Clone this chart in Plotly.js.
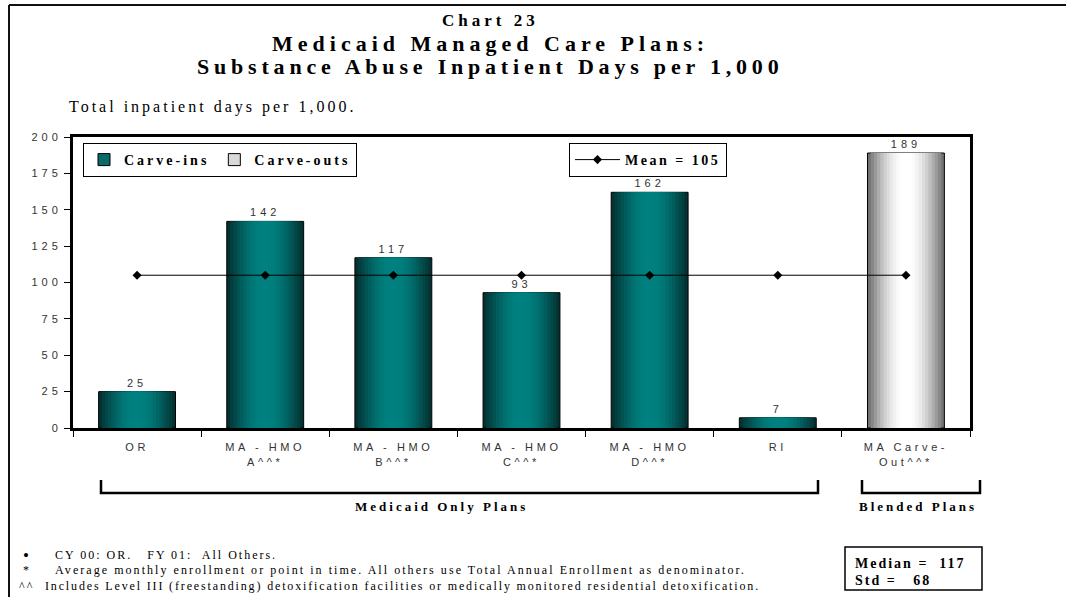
<!DOCTYPE html>
<html><head><meta charset="utf-8">
<script src="https://cdn.plot.ly/plotly-3.0.1.min.js"></script>
<style>
body{margin:0;background:#fff}
#chart{width:1066px;height:597px}
.xtick text{letter-spacing:3.6px}
.ytick text{letter-spacing:4px}
text.bartext{letter-spacing:4px}
.legendtext{letter-spacing:3px}
</style></head><body><div id="chart"></div>
<script>
// ---- data ----
const categories = ['OR', 'MA - HMO<br>A^^*', 'MA - HMO<br>B^^*', 'MA - HMO<br>C^^*', 'MA - HMO<br>D^^*', 'RI', 'MA Carve-<br>Out^^*'];
const carveIns  = [25, 142, 117, 93, 162, 7, null];
const carveOuts = [null, null, null, null, null, null, 189];
const meanSeries = [105, 105, 105, 105, 105, 105, 105];
const yTicks = [0, 25, 50, 75, 100, 125, 150, 175, 200];
const meanLabel = 'Mean = 105';
const medianLabel = 'Median =\u00a0 117';
const stdLabel = 'Std =\u00a0\u00a0 68';
const footnotes = [
  ['\u2022', 'CY 00: OR.\u00a0\u00a0 FY 01:\u00a0 All Others.'],
  ['*', 'Average monthly enrollment or point in time. All others use Total Annual Enrollment as denominator.'],
  ['^^', 'Includes Level III (freestanding) detoxification facilities or medically monitored residential detoxification.']
];

// ---- geometry helpers (pixel -> paper) ----
const L = 73, R = 970, T = 137, B = 428;
const px = x => (x - L) / (R - L);
const py = y => (B - y) / (B - T);

const serif = 'Liberation Serif, Times New Roman, serif';
const sans = 'Liberation Sans, Arial, sans-serif';

// ---- gradient bars via nested overlay bar traces ----
function mix(a, b, t) {
  return 'rgb(' + a.map((v, i) => Math.round(v + (b[i] - v) * t)).join(',') + ')';
}
const N = 12, W = 0.6;
const traces = [];
function addGradient(values, edge, center) {
  for (let k = 0; k < N; k++) {
    const t = Math.sin((k / (N - 1)) * Math.PI / 2);
    const tr = {
      type: 'bar', x: categories, y: values,
      width: W * (1 - k / N),
      marker: { color: mix(edge, center, t), line: { width: k === 0 ? 1 : 0, color: '#000' } },
      showlegend: false, hoverinfo: 'skip', cliponaxis: false
    };
    if (k === 0) {
      tr.texttemplate = '%{y}';
      tr.textposition = 'outside';
      tr.textfont = { family: sans, size: 11, color: '#333' };
    }
    traces.push(tr);
  }
}
addGradient(carveIns, [4, 50, 50], [0, 128, 128]);
addGradient(carveOuts, [115, 115, 115], [255, 255, 255]);

// legend entries
traces.push({ type: 'bar', x: [categories[0]], y: [null], name: 'Carve-ins', legend: 'legend',
  marker: { color: '#0a6a6a', line: { color: '#000', width: 1 } }, hoverinfo: 'skip' });
traces.push({ type: 'bar', x: [categories[0]], y: [null], name: 'Carve-outs', legend: 'legend',
  marker: { color: '#d8d8d8', line: { color: '#000', width: 1 } }, hoverinfo: 'skip' });

// mean line
traces.push({ type: 'scatter', mode: 'lines+markers', x: categories, y: meanSeries,
  name: '<span style="letter-spacing:2.5px">' + meanLabel + '</span>',
  legend: 'legend2', line: { color: '#000', width: 1 },
  marker: { symbol: 'diamond', size: 7, color: '#000' }, hoverinfo: 'skip', cliponaxis: false });

function sp(text, s) { return '<span style="letter-spacing:' + s + 'px">' + text + '</span>'; }
function ann(text, x, y, font, opts) {
  return Object.assign({ text: text, xref: 'paper', yref: 'paper', x: px(x), y: py(y),
    showarrow: false, xanchor: 'center', yanchor: 'middle', font: font }, opts || {});
}

const annotations = [
  ann(sp('Chart 23', 4), 490, 20, { family: serif, size: 17, weight: 'bold', color: '#000' }),
  ann(sp('Medicaid Managed Care Plans:', 5), 490, 43, { family: serif, size: 22, weight: 'bold', color: '#000' }),
  ann(sp('Substance Abuse Inpatient Days per 1,000', 4.8), 490, 67, { family: serif, size: 22, weight: 'bold', color: '#000' }),
  ann(sp('Total inpatient days per 1,000.', 3), 67, 107, { family: serif, size: 16, color: '#000' }, { xanchor: 'left' }),
  ann(sp('Medicaid Only Plans', 3), 441, 506, { family: serif, size: 13, weight: 'bold', color: '#000' }),
  ann(sp('Blended Plans', 3), 918, 506, { family: serif, size: 13, weight: 'bold', color: '#000' }),
  ann(sp(medianLabel, 2), 853, 563, { family: serif, size: 14, weight: 'bold', color: '#000' }, { xanchor: 'left' }),
  ann(sp(stdLabel, 2), 853, 580, { family: serif, size: 14, weight: 'bold', color: '#000' }, { xanchor: 'left' })
];
const fnY = [555, 570, 586];
const markX = [27, 27, 26];
const markSize = [17, 12, 12];
const textX = [53, 53, 43];
const textSpacing = [2, 2.05, 1.85];
footnotes.forEach((f, i) => {
  annotations.push(ann(sp(f[0], 2), markX[i], fnY[i], { family: serif, size: markSize[i], color: '#000' }));
  annotations.push(ann(sp(f[1], textSpacing[i]), textX[i], fnY[i], { family: serif, size: 12, color: '#000' }, { xanchor: 'left' }));
});

const shapes = [
  // outer frame
  { type: 'line', xref: 'paper', yref: 'paper', x0: px(9), x1: px(1066), y0: py(5), y1: py(5), line: { color: '#111', width: 2 } },
  { type: 'line', xref: 'paper', yref: 'paper', x0: px(9), x1: px(9), y0: py(5), y1: py(597), line: { color: '#111', width: 2 } },
  // brackets
  { type: 'path', xref: 'paper', yref: 'paper',
    path: `M${px(101)},${py(480)} L${px(101)},${py(493)} L${px(818)},${py(493)} L${px(818)},${py(480)}`,
    line: { color: '#000', width: 2.5 } },
  { type: 'path', xref: 'paper', yref: 'paper',
    path: `M${px(862)},${py(480)} L${px(862)},${py(493)} L${px(980)},${py(493)} L${px(980)},${py(480)}`,
    line: { color: '#000', width: 2.5 } },
  // median box
  { type: 'rect', xref: 'paper', yref: 'paper', x0: px(845), x1: px(982), y0: py(547), y1: py(590),
    line: { color: '#000', width: 1.5 } }
];

const layout = {
  width: 1066, height: 597,
  margin: { l: L, r: 1066 - R, t: T, b: 597 - B, pad: 0 },
  paper_bgcolor: '#fff', plot_bgcolor: '#fff',
  barmode: 'overlay',
  showlegend: true,
  legend: {
    orientation: 'h', xanchor: 'left', yanchor: 'top', bgcolor: '#fff',
    bordercolor: '#000', borderwidth: 1, x: px(83), y: py(143),
    font: { family: serif, size: 14, weight: 'bold', color: '#000' }
  },
  legend2: {
    orientation: 'h', xanchor: 'left', yanchor: 'top', bgcolor: '#fff',
    bordercolor: '#000', borderwidth: 1, x: px(569), y: py(143), itemwidth: 45,
    font: { family: serif, size: 14, weight: 'bold', color: '#000' }
  },
  xaxis: {
    type: 'category', categoryorder: 'array', categoryarray: categories, range: [-0.5, 6.5],
    showline: true, linewidth: 3, linecolor: '#000', mirror: true,
    ticks: 'outside', tickson: 'boundaries', ticklen: 6, tickwidth: 1, tickcolor: '#000',
    ticklabelstandoff: 7,
    tickfont: { family: sans, size: 11, color: '#333' }, showgrid: false, zeroline: false, fixedrange: true
  },
  yaxis: {
    range: [0, 200], tickvals: yTicks, ticktext: yTicks.map(String),
    showline: true, linewidth: 3, linecolor: '#000', mirror: true,
    ticks: 'outside', ticklen: 6, tickwidth: 1, tickcolor: '#000',
    tickfont: { family: sans, size: 11, color: '#333' }, showgrid: false, zeroline: false, fixedrange: true
  },
  annotations: annotations,
  shapes: shapes
};

Plotly.newPlot('chart', traces, layout, { displayModeBar: false, staticPlot: true });
</script></body></html>
